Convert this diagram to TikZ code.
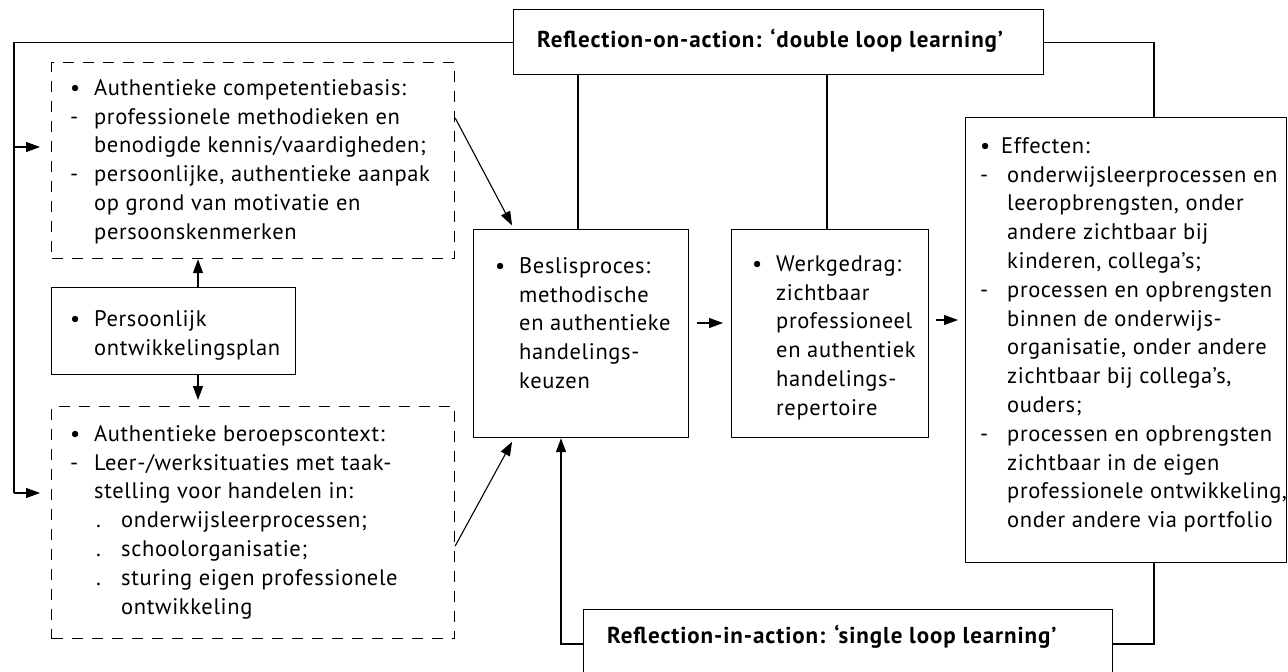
\documentclass[tikz,border=0pt]{standalone}
\usepackage{fontspec}
\setmainfont{PT Sans}
\newfontfamily\bodyfam[LetterSpace=2.8]{PT Sans}
\newfontfamily\titlefam[LetterSpace=4]{PT Sans}
\usetikzlibrary{arrows.meta}

\newcommand\bodyfont{\bodyfam\fontsize{22.5}{28.8}\selectfont}
\newcommand\titlefont{\titlefam\fontsize{23}{28.8}\selectfont\bfseries}
% list markers with a hanging indent
\newcommand\bul[1][24pt]{\makebox[#1][l]{•}}
\newcommand\dsh[1][24pt]{\makebox[#1][l]{-}}
\newcommand\ind[1][24pt]{\hspace*{#1}}

\begin{document}
\begin{tikzpicture}[x=1pt,y=-1pt,
  box/.style={draw, line width=1.2pt, anchor=north west, inner sep=0pt},
  dbox/.style={box, dash pattern=on 11pt off 9pt},
  txt/.style={anchor=north west, inner sep=0pt, align=left, font=\bodyfont, yshift=20.16pt},
  ttl/.style={anchor=north west, inner sep=0pt, align=left, font=\titlefont, yshift=20.16pt},
  con/.style={line width=1.1pt},
  arr/.style={con, -{Triangle[length=14pt,width=10pt]}}]

\useasboundingbox (0,0) rectangle (1288,672);
\fill[white] (0,0) rectangle (1288,672);
\clip (0,0) rectangle (1288,672);

% frames
\node[box, minimum width=530pt, minimum height=65pt] (top) at (513,9) {};
\node[dbox, minimum width=403pt, minimum height=196pt] (d1) at (51,62) {};
\node[box, minimum width=244pt, minimum height=87pt] (pers) at (51,287) {};
\node[dbox, minimum width=403pt, minimum height=232pt] (d2) at (51,406) {};
\node[box, minimum width=215pt, minimum height=208pt] (beslis) at (473,229) {};
\node[box, minimum width=197pt, minimum height=208pt] (werk) at (731,229) {};
\node[box, minimum width=321pt, minimum height=445pt] (eff) at (965,117) {};
\node[box, minimum width=529pt, minimum height=66pt] (single) at (583,609) {};

% texts
\node[ttl] (ttop) at (537,47) {\strut Reflection-on-action: ‘double loop learning’};
\node[ttl] (tsingle) at (607,643) {\strut Reflection-in-action: ‘single loop learning’};

\node[txt] (td1) at (70,95) {\strut\bul Authentieke competentiebasis:\\
\dsh professionele methodieken en\\
\ind benodigde kennis/vaardigheden;\\
\dsh persoonlijke, authentieke aanpak\\
\ind op grond van motivatie en\\
\ind persoonskenmerken};

\node[txt] (tpers) at (70,326) {\strut\bul Persoonlijk\\
\ind ontwikkelingsplan};

\node[txt] (td2) at (70,441) {\strut\bul Authentieke beroepscontext:\\
\dsh Leer-/werksituaties met taak-\\
\ind stelling voor handelen in:\\
\ind[26pt]\makebox[25pt][l]{.}onderwijsleerprocessen;\\
\ind[26pt]\makebox[25pt][l]{.}schoolorganisatie;\\
\ind[26pt]\makebox[25pt][l]{.}sturing eigen professionele\\
\ind[51pt]ontwikkeling};

\node[txt] (tbeslis) at (495,273) {\strut\bul Beslisproces:\\
\ind methodische\\
\ind en authentieke\\
\ind handelings-\\
\ind keuzen};

\node[txt] (twerk) at (752,271) {\strut\bul Werkgedrag:\\
\ind zichtbaar\\
\ind professioneel\\
\ind en authentiek\\
\ind handelings-\\
\ind repertoire};

\node[txt] (teff) at (980,153) {\strut\bul[21pt]Effecten:\\
\dsh[27pt]onderwijsleerprocessen en\\
\ind[27pt]leeropbrengsten, onder\\
\ind[27pt]andere zichtbaar bij\\
\ind[27pt]kinderen, collega’s;\\
\dsh[27pt]processen en opbrengsten\\
\ind[27pt]binnen de onderwijs-\\
\ind[27pt]organisatie, onder andere\\
\ind[27pt]zichtbaar bij collega’s,\\
\ind[27pt]ouders;\\
\dsh[27pt]processen en opbrengsten\\
\ind[27pt]zichtbaar in de eigen\\
\ind[27pt]professionele ontwikkeling,\\
\ind[27pt]onder andere via portfolio};

% routing points
\coordinate (L1) at (14,147);
\coordinate (L2) at (14,493);
\coordinate (R1) at (1154,117);
\coordinate (v1) at (578,0);
\coordinate (v2) at (827,0);
\coordinate (vp) at (198,0);
\coordinate (h1) at (0,323);
\coordinate (h2) at (0,320);
\coordinate (dg1) at (0,118);
\coordinate (dg2) at (0,546);
\coordinate (tg) at (514,0);
\coordinate (B1) at (1154,644);
\coordinate (B2) at (561,644);

% double loop
\draw[con] (top.west) -| (L2);
\draw[arr] (L2) -- ([xshift=-11pt]d2.west |- L2);
\draw[arr] (L1) -- ([xshift=-11pt]d1.west |- L1);
\draw[con] (top.east) -| (R1);
\draw[con] (top.south -| v1) -- (beslis.north -| v1);
\draw[con] (top.south -| v2) -- (werk.north -| v2);

% personal plan
\draw[arr] (pers.north -| vp) -- (d1.south -| vp);
\draw[arr, shorten >=6pt] (pers.south -| vp) -- (d2.north -| vp);

% into the decision process
\draw[arr, shorten >=4pt] (d1.east |- dg1) -- (beslis.north -| tg);
\draw[arr, shorten >=4pt] (d2.east |- dg2) -- (beslis.south -| tg);

% main chain
\draw[arr, shorten <=8pt, shorten >=8pt] (beslis.east |- h1) -- (werk.west |- h1);
\draw[arr, shorten <=7pt, shorten >=7pt] (werk.east |- h2) -- (eff.west |- h2);

% single loop
\draw[con] (eff.south -| B1) -- (B1) -- (single.east |- B1);
\draw[arr] (single.west |- B2) -- (B2) -- (beslis.south -| B2);
\end{tikzpicture}
\end{document}
